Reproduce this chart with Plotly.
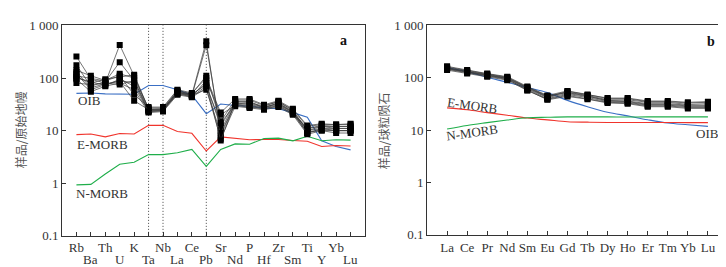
import plotly.graph_objects as go

W, H = 726, 267

# ---------------- data: panel a (primitive-mantle normalised) ----------------
elements_a = ["Rb", "Ba", "Th", "U", "K", "Ta", "Nb", "La", "Ce", "Pb",
              "Sr", "Nd", "P", "Hf", "Zr", "Sm", "Ti", "Y", "Yb", "Lu"]

samples_a = [
    [256, 95, 80, 425, 110, 25, 26, 55, 48, 500, 8, 33, 33, 28, 33, 22, 9, 11, 10, 10],
    [175, 70, 85, 200, 90, 24, 25, 52, 46, 420, 10, 35, 36, 27, 34, 23, 10, 12, 11, 11],
    [140, 110, 90, 120, 100, 27, 27, 58, 50, 110, 15, 38, 38, 30, 35, 25, 12, 13, 13, 13],
    [120, 60, 75, 90, 80, 23, 24, 50, 44, 90, 20, 30, 28, 26, 30, 21, 11, 12, 12, 12],
    [105, 80, 95, 105, 115, 26, 25, 56, 49, 75, 12, 36, 34, 29, 36, 24, 10, 11, 11, 11],
    [95, 55, 70, 80, 60, 22, 23, 48, 43, 65, 7, 29, 27, 25, 28, 20, 8.5, 10, 9, 9],
    [80, 75, 80, 75, 90, 24, 24, 53, 47, 60, 9, 32, 30, 27, 31, 22, 9.5, 10, 10, 10],
    [110, 100, 88, 110, 48, 28, 28, 60, 52, 100, 22, 40, 40, 31, 37, 26, 12.5, 13.5, 13, 13.5],
    [130, 65, 78, 85, 37, 25, 26, 54, 47, 80, 6.5, 34, 31, 28, 32, 23, 11, 12.5, 12, 12],
    [100, 85, 72, 95, 70, 23, 24, 51, 45, 70, 14, 31, 29, 26, 29, 21, 9, 10.5, 10, 10],
]

oib_a = [51, 52, 50, 50, 49, 72, 72, 60, 47, 21, 32, 30, 29, 27, 26, 22, 18, 6.4, 5.0, 4.3]
emorb_a = [8.4, 8.6, 7.6, 8.8, 8.6, 12.6, 12.6, 9.6, 8.9, 4.1, 7.6, 7.1, 6.7, 6.8, 6.8, 6.5, 6.3, 5.0, 5.2, 5.1]
nmorb_a = [0.93, 0.95, 1.5, 2.3, 2.5, 3.5, 3.5, 3.8, 4.4, 2.1, 4.4, 5.6, 5.5, 7.1, 7.2, 6.4, 7.8, 6.4, 6.7, 6.6]

dotted_at = ["Ta", "Nb", "Pb"]

# ---------------- data: panel b (chondrite normalised) ----------------
elements_b = ["La", "Ce", "Pr", "Nd", "Sm", "Eu", "Gd", "Tb", "Dy", "Ho", "Er", "Tm", "Yb", "Lu"]

samples_b = [
    [165, 140, 120, 105, 68, 46, 56, 48, 40, 40, 35, 35, 33, 34],
    [155, 135, 115, 100, 65, 44, 53, 46, 38, 38, 34, 34, 31, 32],
    [150, 130, 112, 97, 62, 42, 50, 44, 37, 36, 32, 32, 30, 30],
    [145, 125, 108, 93, 60, 40, 48, 42, 35, 34, 30, 30, 28, 28],
    [140, 120, 104, 90, 57, 39, 46, 40, 34, 33, 29, 29, 27, 27],
    [160, 137, 118, 102, 66, 45, 52, 45, 36, 35, 31, 31, 29, 29],
    [148, 128, 110, 95, 58, 38, 44, 39, 33, 32, 28, 28, 26, 26],
    [152, 132, 114, 98, 64, 43, 55, 47, 41, 41, 36, 36, 34, 35],
]

oib_b = [156, 131, 102, 82, 65, 52, 37, 28, 22, 18.7, 15.8, 13.7, 12.7, 11.8]
emorb_b = [26.6, 24.5, 21.6, 19.3, 17.0, 15.7, 14.5, 14.2, 14.0, 14.0, 14.0, 14.0, 13.9, 13.9]
nmorb_b = [10.5, 12.3, 13.9, 15.6, 17.2, 17.6, 17.9, 17.9, 17.9, 17.8, 17.9, 17.9, 17.9, 17.9]

y_tickvals = [0.1, 1, 10, 100, 1000]
y_ticktext = ["0.1", "1", "10", "100", "1 000"]

# ---------------- figure ----------------
SERIF = "Liberation Serif"
CJK = "Noto Sans CJK SC"
BLUE, RED, GREEN = "#3a6fc4", "#f0342c", "#1fae4a"
fig = go.Figure()

xa = list(range(len(elements_a)))
xb = list(range(len(elements_b)))

def add_samples(xs, rows, xaxis, yaxis):
    for r in rows:
        fig.add_trace(go.Scatter(
            x=xs, y=r, mode="lines+markers", xaxis=xaxis, yaxis=yaxis,
            line=dict(color="#3a3a3a", width=0.7),
            marker=dict(symbol="square", size=6, color="black"),
            showlegend=False, hoverinfo="skip"))

def add_ref(xs, ys, color, xaxis, yaxis, shape="linear"):
    fig.add_trace(go.Scatter(
        x=xs, y=ys, mode="lines", xaxis=xaxis, yaxis=yaxis,
        line=dict(color=color, width=1.1, shape=shape),
        showlegend=False, hoverinfo="skip"))

add_ref(xa, oib_a, BLUE, "x", "y")
add_ref(xa, emorb_a, RED, "x", "y")
add_ref(xa, nmorb_a, GREEN, "x", "y")
add_samples(xa, samples_a, "x", "y")

add_ref(xb, oib_b, BLUE, "x2", "y2", "spline")
add_ref(xb, emorb_b, RED, "x2", "y2", "spline")
add_ref(xb, nmorb_b, GREEN, "x2", "y2", "spline")
add_samples(xb, samples_b, "x2", "y2")

for el in dotted_at:
    i = elements_a.index(el)
    fig.add_shape(type="line", xref="x", yref="y domain", x0=i, x1=i, y0=0, y1=1,
                  line=dict(color="#444", width=1, dash="1px,2px"), layer="below")

# top row of category labels for panel a as tick text; second row as annotations
ticktext_a = [e if k % 2 == 0 else "" for k, e in enumerate(elements_a)]

axis_common = dict(showgrid=False, zeroline=False, showline=True, linecolor="#333",
                   linewidth=1, mirror=True, ticks="inside", ticklen=4, tickcolor="#333",
                   tickangle=0,
                   tickfont=dict(family=SERIF, size=13, color="#333"))

def px(x):
    return x / W

def py(y):
    return 1 - y / H

fig.update_layout(
    width=W, height=H, margin=dict(l=0, r=0, t=0, b=0),
    paper_bgcolor="white", plot_bgcolor="white",
    xaxis=dict(domain=[px(54), px(357)], range=[-1, len(elements_a)], tickvals=xa,
               ticktext=ticktext_a, anchor="y", **axis_common),
    yaxis=dict(domain=[py(234), py(11)], type="log", range=[-1, 3],
               tickvals=y_tickvals, ticktext=y_ticktext, anchor="x", **axis_common),
    xaxis2=dict(domain=[px(419), px(720)], range=[-1, len(elements_b)], tickvals=xb,
                ticktext=elements_b, anchor="y2", **axis_common),
    yaxis2=dict(domain=[py(233), py(11)], type="log", range=[-1, 3],
                tickvals=y_tickvals, ticktext=y_ticktext, anchor="x2", **axis_common),
)

ann = []
def label(text, x, y, size=13, angle=0, bold=False, font=SERIF, color="#333"):
    ann.append(dict(text=("<b>%s</b>" % text) if bold else text, x=px(x), y=py(y),
                    xref="paper", yref="paper", showarrow=False, textangle=angle,
                    font=dict(family=font, size=size, color=color),
                    xanchor="center", yanchor="middle"))

for k, e in enumerate(elements_a):
    if k % 2 == 1:
        ann.append(dict(text=e, x=k, y=py(259), xref="x", yref="paper", showarrow=False,
                        font=dict(family=SERIF, size=13, color="#333"),
                        xanchor="center", yanchor="middle"))

label("OIB", 81, 91)
label("E-MORB", 94, 137)
label("N-MORB", 94, 189)
label("a", 335, 27, size=14, bold=True, color="#111")
label("E-MORB", 464, 96, angle=8)
label("N-MORB", 464, 124, angle=-8)
label("OIB", 699, 126)
label("b", 703, 28, size=14, bold=True, color="#111")
label("样品/原始地幔", 12, 122, size=12, angle=-90, font=CJK, color="#555")
label("样品/球粒陨石", 375, 122, size=12, angle=-90, font=CJK, color="#555")
fig.update_layout(annotations=ann)

fig.write_html("out.html")
